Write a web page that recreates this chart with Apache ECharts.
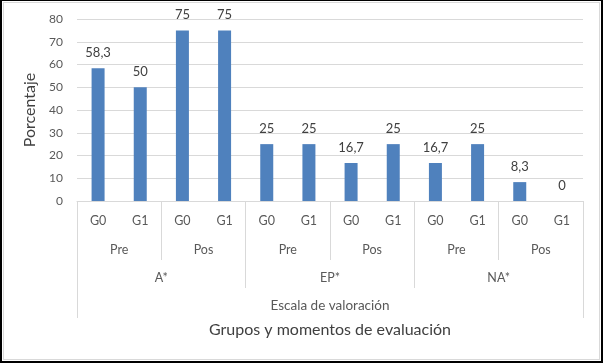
<!DOCTYPE html>
<html><head><meta charset="utf-8">
<script src="https://cdn.jsdelivr.net/npm/echarts@6/dist/echarts.min.js"></script>
<style>
html,body{margin:0;padding:0;background:#fff;}
#c{position:absolute;left:0;top:0;width:603px;height:363px;}
#f{position:absolute;left:0;top:0;width:603px;height:363px;box-sizing:border-box;border-style:solid;border-color:#000;border-width:1px 2px 2px 2px;pointer-events:none;}
#g{position:absolute;left:1px;top:1px;right:1px;bottom:1px;border:1px solid #d9d9d9;}
</style></head><body>
<div id="c"></div><div id="f"><div id="g"></div></div>
<script>
const groups = ['G0','G1','G0','G1','G0','G1','G0','G1','G0','G1','G0','G1'];
const moments = ['Pre','Pos','Pre','Pos','Pre','Pos'];
const scales = ['A*','EP*','NA*'];
const outer = ['Escala de valoración'];
const values = [58.3, 50, 75, 75, 25, 25, 16.7, 25, 16.7, 25, 8.3, 0];
const yMin = 0, yMax = 80, yStep = 10;

const FONT = 'Lato';
const gridColor = '#d9d9d9';
const labelColor = '#595959';

function catAxis(data, tickLen, margin, extra, fs) {
  return Object.assign({
    type: 'category',
    position: 'bottom',
    data: data,
    axisLine: { show: false },
    axisTick: { show: tickLen > 0, length: tickLen, interval: 0, lineStyle: { color: gridColor, width: 1 } },
    axisLabel: { interval: 0, margin: margin, color: labelColor, fontFamily: FONT, fontSize: fs || 12.5 },
    splitLine: { show: false }
  }, extra || {});
}

const chart = echarts.init(document.getElementById('c'), null, { renderer: 'canvas' });
chart.setOption({
  animation: false,
  backgroundColor: '#fff',
  textStyle: { fontFamily: FONT },
  grid: { left: 77, right: 20, top: 19, bottom: 162, containLabel: false },
  xAxis: [
    catAxis(groups, 0, 13, { axisLine: { show: true, lineStyle: { color: gridColor, width: 1 } } }),
    catAxis(moments, 59, 42),
    catAxis(scales, 87, 70),
    catAxis(outer, 117, 98, {
      name: 'Grupos y momentos de evaluación',
      nameLocation: 'middle',
      nameGap: 121,
      nameTextStyle: { color: '#404040', fontFamily: FONT, fontSize: 16 }
    }, 13.5)
  ],
  yAxis: {
    type: 'value',
    min: yMin, max: yMax, interval: yStep,
    name: 'Porcentaje',
    nameLocation: 'middle',
    nameGap: 30,
    nameTextStyle: { color: '#404040', fontFamily: FONT, fontSize: 16 },
    axisLine: { show: false },
    axisTick: { show: false },
    axisLabel: { margin: 14, color: labelColor, fontFamily: FONT, fontSize: 12 },
    splitLine: { lineStyle: { color: gridColor, width: 1 } }
  },
  series: [{
    type: 'bar',
    xAxisIndex: 0,
    data: values,
    barWidth: 13,
    itemStyle: { color: '#4f81bd' },
    label: {
      show: true,
      position: 'top',
      distance: 9,
      color: '#404040',
      fontFamily: FONT,
      fontSize: 13,
      formatter: p => String(p.value).replace('.', ',')
    }
  }]
});
</script>
</body></html>
